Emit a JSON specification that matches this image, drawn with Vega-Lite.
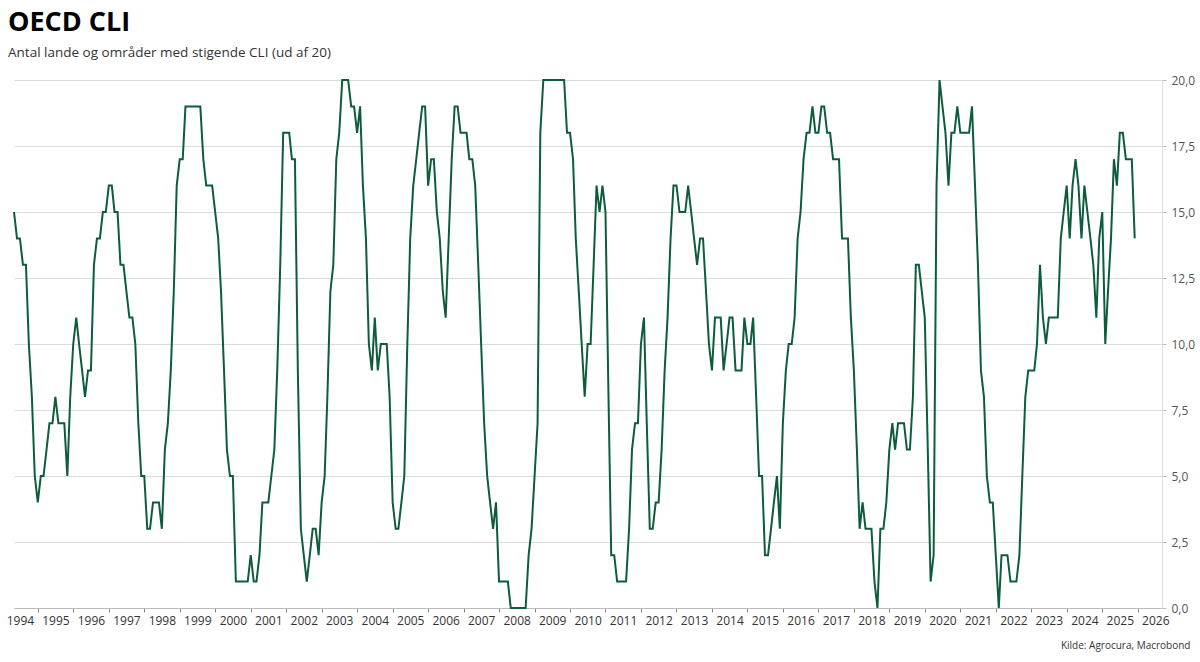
{
  "$schema": "https://vega.github.io/schema/vega-lite/v6.json",
  "width": 1148,
  "height": 528,
  "autosize": {"type": "none"},
  "padding": {"left": 14, "top": 80, "right": 38, "bottom": 54},
  "background": "white",
  "title": {
    "text": "OECD CLI",
    "subtitle": "Antal lande og områder med stigende CLI (ud af 20)",
    "anchor": "start",
    "frame": "group",
    "dx": -6,
    "offset": 14,
    "font": "Open Sans",
    "fontSize": 27,
    "fontWeight": "bold",
    "color": "#000000",
    "subtitleFont": "Open Sans",
    "subtitleFontSize": 13.5,
    "subtitleColor": "#333333",
    "subtitlePadding": 9
  },
  "config": {"view": {"stroke": null}},
  "data": {
    "values": [
      {"d": "1994-05-01", "v": 15}, {"d": "1994-06-01", "v": 14}, {"d": "1994-07-01", "v": 14}, {"d": "1994-08-01", "v": 13}, {"d": "1994-09-01", "v": 13}, {"d": "1994-10-01", "v": 10}, {"d": "1994-11-01", "v": 8}, {"d": "1994-12-01", "v": 5},
      {"d": "1995-01-01", "v": 4}, {"d": "1995-02-01", "v": 5}, {"d": "1995-03-01", "v": 5}, {"d": "1995-04-01", "v": 6}, {"d": "1995-05-01", "v": 7}, {"d": "1995-06-01", "v": 7}, {"d": "1995-07-01", "v": 8}, {"d": "1995-08-01", "v": 7}, {"d": "1995-09-01", "v": 7}, {"d": "1995-10-01", "v": 7}, {"d": "1995-11-01", "v": 5}, {"d": "1995-12-01", "v": 8},
      {"d": "1996-01-01", "v": 10}, {"d": "1996-02-01", "v": 11}, {"d": "1996-03-01", "v": 10}, {"d": "1996-04-01", "v": 9}, {"d": "1996-05-01", "v": 8}, {"d": "1996-06-01", "v": 9}, {"d": "1996-07-01", "v": 9}, {"d": "1996-08-01", "v": 13}, {"d": "1996-09-01", "v": 14}, {"d": "1996-10-01", "v": 14}, {"d": "1996-11-01", "v": 15}, {"d": "1996-12-01", "v": 15},
      {"d": "1997-01-01", "v": 16}, {"d": "1997-02-01", "v": 16}, {"d": "1997-03-01", "v": 15}, {"d": "1997-04-01", "v": 15}, {"d": "1997-05-01", "v": 13}, {"d": "1997-06-01", "v": 13}, {"d": "1997-07-01", "v": 12}, {"d": "1997-08-01", "v": 11}, {"d": "1997-09-01", "v": 11}, {"d": "1997-10-01", "v": 10}, {"d": "1997-11-01", "v": 7}, {"d": "1997-12-01", "v": 5},
      {"d": "1998-01-01", "v": 5}, {"d": "1998-02-01", "v": 3}, {"d": "1998-03-01", "v": 3}, {"d": "1998-04-01", "v": 4}, {"d": "1998-05-01", "v": 4}, {"d": "1998-06-01", "v": 4}, {"d": "1998-07-01", "v": 3}, {"d": "1998-08-01", "v": 6}, {"d": "1998-09-01", "v": 7}, {"d": "1998-10-01", "v": 9}, {"d": "1998-11-01", "v": 12}, {"d": "1998-12-01", "v": 16},
      {"d": "1999-01-01", "v": 17}, {"d": "1999-02-01", "v": 17}, {"d": "1999-03-01", "v": 19}, {"d": "1999-04-01", "v": 19}, {"d": "1999-05-01", "v": 19}, {"d": "1999-06-01", "v": 19}, {"d": "1999-07-01", "v": 19}, {"d": "1999-08-01", "v": 19}, {"d": "1999-09-01", "v": 17}, {"d": "1999-10-01", "v": 16}, {"d": "1999-11-01", "v": 16}, {"d": "1999-12-01", "v": 16},
      {"d": "2000-01-01", "v": 15}, {"d": "2000-02-01", "v": 14}, {"d": "2000-03-01", "v": 12}, {"d": "2000-04-01", "v": 9}, {"d": "2000-05-01", "v": 6}, {"d": "2000-06-01", "v": 5}, {"d": "2000-07-01", "v": 5}, {"d": "2000-08-01", "v": 1}, {"d": "2000-09-01", "v": 1}, {"d": "2000-10-01", "v": 1}, {"d": "2000-11-01", "v": 1}, {"d": "2000-12-01", "v": 1},
      {"d": "2001-01-01", "v": 2}, {"d": "2001-02-01", "v": 1}, {"d": "2001-03-01", "v": 1}, {"d": "2001-04-01", "v": 2}, {"d": "2001-05-01", "v": 4}, {"d": "2001-06-01", "v": 4}, {"d": "2001-07-01", "v": 4}, {"d": "2001-08-01", "v": 5}, {"d": "2001-09-01", "v": 6}, {"d": "2001-10-01", "v": 9}, {"d": "2001-11-01", "v": 13}, {"d": "2001-12-01", "v": 18},
      {"d": "2002-01-01", "v": 18}, {"d": "2002-02-01", "v": 18}, {"d": "2002-03-01", "v": 17}, {"d": "2002-04-01", "v": 17}, {"d": "2002-05-01", "v": 9}, {"d": "2002-06-01", "v": 3}, {"d": "2002-07-01", "v": 2}, {"d": "2002-08-01", "v": 1}, {"d": "2002-09-01", "v": 2}, {"d": "2002-10-01", "v": 3}, {"d": "2002-11-01", "v": 3}, {"d": "2002-12-01", "v": 2},
      {"d": "2003-01-01", "v": 4}, {"d": "2003-02-01", "v": 5}, {"d": "2003-03-01", "v": 8}, {"d": "2003-04-01", "v": 12}, {"d": "2003-05-01", "v": 13}, {"d": "2003-06-01", "v": 17}, {"d": "2003-07-01", "v": 18}, {"d": "2003-08-01", "v": 20}, {"d": "2003-09-01", "v": 20}, {"d": "2003-10-01", "v": 20}, {"d": "2003-11-01", "v": 19}, {"d": "2003-12-01", "v": 19},
      {"d": "2004-01-01", "v": 18}, {"d": "2004-02-01", "v": 19}, {"d": "2004-03-01", "v": 16}, {"d": "2004-04-01", "v": 14}, {"d": "2004-05-01", "v": 10}, {"d": "2004-06-01", "v": 9}, {"d": "2004-07-01", "v": 11}, {"d": "2004-08-01", "v": 9}, {"d": "2004-09-01", "v": 10}, {"d": "2004-10-01", "v": 10}, {"d": "2004-11-01", "v": 10}, {"d": "2004-12-01", "v": 8},
      {"d": "2005-01-01", "v": 4}, {"d": "2005-02-01", "v": 3}, {"d": "2005-03-01", "v": 3}, {"d": "2005-04-01", "v": 4}, {"d": "2005-05-01", "v": 5}, {"d": "2005-06-01", "v": 10}, {"d": "2005-07-01", "v": 14}, {"d": "2005-08-01", "v": 16}, {"d": "2005-09-01", "v": 17}, {"d": "2005-10-01", "v": 18}, {"d": "2005-11-01", "v": 19}, {"d": "2005-12-01", "v": 19},
      {"d": "2006-01-01", "v": 16}, {"d": "2006-02-01", "v": 17}, {"d": "2006-03-01", "v": 17}, {"d": "2006-04-01", "v": 15}, {"d": "2006-05-01", "v": 14}, {"d": "2006-06-01", "v": 12}, {"d": "2006-07-01", "v": 11}, {"d": "2006-08-01", "v": 14}, {"d": "2006-09-01", "v": 17}, {"d": "2006-10-01", "v": 19}, {"d": "2006-11-01", "v": 19}, {"d": "2006-12-01", "v": 18},
      {"d": "2007-01-01", "v": 18}, {"d": "2007-02-01", "v": 18}, {"d": "2007-03-01", "v": 17}, {"d": "2007-04-01", "v": 17}, {"d": "2007-05-01", "v": 16}, {"d": "2007-06-01", "v": 13}, {"d": "2007-07-01", "v": 10}, {"d": "2007-08-01", "v": 7}, {"d": "2007-09-01", "v": 5}, {"d": "2007-10-01", "v": 4}, {"d": "2007-11-01", "v": 3}, {"d": "2007-12-01", "v": 4},
      {"d": "2008-01-01", "v": 1}, {"d": "2008-02-01", "v": 1}, {"d": "2008-03-01", "v": 1}, {"d": "2008-04-01", "v": 1}, {"d": "2008-05-01", "v": 0}, {"d": "2008-06-01", "v": 0}, {"d": "2008-07-01", "v": 0}, {"d": "2008-08-01", "v": 0}, {"d": "2008-09-01", "v": 0}, {"d": "2008-10-01", "v": 0}, {"d": "2008-11-01", "v": 2}, {"d": "2008-12-01", "v": 3},
      {"d": "2009-01-01", "v": 5}, {"d": "2009-02-01", "v": 7}, {"d": "2009-03-01", "v": 18}, {"d": "2009-04-01", "v": 20}, {"d": "2009-05-01", "v": 20}, {"d": "2009-06-01", "v": 20}, {"d": "2009-07-01", "v": 20}, {"d": "2009-08-01", "v": 20}, {"d": "2009-09-01", "v": 20}, {"d": "2009-10-01", "v": 20}, {"d": "2009-11-01", "v": 20}, {"d": "2009-12-01", "v": 18},
      {"d": "2010-01-01", "v": 18}, {"d": "2010-02-01", "v": 17}, {"d": "2010-03-01", "v": 14}, {"d": "2010-04-01", "v": 12}, {"d": "2010-05-01", "v": 10}, {"d": "2010-06-01", "v": 8}, {"d": "2010-07-01", "v": 10}, {"d": "2010-08-01", "v": 10}, {"d": "2010-09-01", "v": 13}, {"d": "2010-10-01", "v": 16}, {"d": "2010-11-01", "v": 15}, {"d": "2010-12-01", "v": 16},
      {"d": "2011-01-01", "v": 15}, {"d": "2011-02-01", "v": 8}, {"d": "2011-03-01", "v": 2}, {"d": "2011-04-01", "v": 2}, {"d": "2011-05-01", "v": 1}, {"d": "2011-06-01", "v": 1}, {"d": "2011-07-01", "v": 1}, {"d": "2011-08-01", "v": 1}, {"d": "2011-09-01", "v": 3}, {"d": "2011-10-01", "v": 6}, {"d": "2011-11-01", "v": 7}, {"d": "2011-12-01", "v": 7},
      {"d": "2012-01-01", "v": 10}, {"d": "2012-02-01", "v": 11}, {"d": "2012-03-01", "v": 7}, {"d": "2012-04-01", "v": 3}, {"d": "2012-05-01", "v": 3}, {"d": "2012-06-01", "v": 4}, {"d": "2012-07-01", "v": 4}, {"d": "2012-08-01", "v": 6}, {"d": "2012-09-01", "v": 9}, {"d": "2012-10-01", "v": 11}, {"d": "2012-11-01", "v": 14}, {"d": "2012-12-01", "v": 16},
      {"d": "2013-01-01", "v": 16}, {"d": "2013-02-01", "v": 15}, {"d": "2013-03-01", "v": 15}, {"d": "2013-04-01", "v": 15}, {"d": "2013-05-01", "v": 16}, {"d": "2013-06-01", "v": 15}, {"d": "2013-07-01", "v": 14}, {"d": "2013-08-01", "v": 13}, {"d": "2013-09-01", "v": 14}, {"d": "2013-10-01", "v": 14}, {"d": "2013-11-01", "v": 12}, {"d": "2013-12-01", "v": 10},
      {"d": "2014-01-01", "v": 9}, {"d": "2014-02-01", "v": 11}, {"d": "2014-03-01", "v": 11}, {"d": "2014-04-01", "v": 11}, {"d": "2014-05-01", "v": 9}, {"d": "2014-06-01", "v": 10}, {"d": "2014-07-01", "v": 11}, {"d": "2014-08-01", "v": 11}, {"d": "2014-09-01", "v": 9}, {"d": "2014-10-01", "v": 9}, {"d": "2014-11-01", "v": 9}, {"d": "2014-12-01", "v": 11},
      {"d": "2015-01-01", "v": 10}, {"d": "2015-02-01", "v": 10}, {"d": "2015-03-01", "v": 11}, {"d": "2015-04-01", "v": 8}, {"d": "2015-05-01", "v": 5}, {"d": "2015-06-01", "v": 5}, {"d": "2015-07-01", "v": 2}, {"d": "2015-08-01", "v": 2}, {"d": "2015-09-01", "v": 3}, {"d": "2015-10-01", "v": 4}, {"d": "2015-11-01", "v": 5}, {"d": "2015-12-01", "v": 3},
      {"d": "2016-01-01", "v": 7}, {"d": "2016-02-01", "v": 9}, {"d": "2016-03-01", "v": 10}, {"d": "2016-04-01", "v": 10}, {"d": "2016-05-01", "v": 11}, {"d": "2016-06-01", "v": 14}, {"d": "2016-07-01", "v": 15}, {"d": "2016-08-01", "v": 17}, {"d": "2016-09-01", "v": 18}, {"d": "2016-10-01", "v": 18}, {"d": "2016-11-01", "v": 19}, {"d": "2016-12-01", "v": 18},
      {"d": "2017-01-01", "v": 18}, {"d": "2017-02-01", "v": 19}, {"d": "2017-03-01", "v": 19}, {"d": "2017-04-01", "v": 18}, {"d": "2017-05-01", "v": 18}, {"d": "2017-06-01", "v": 17}, {"d": "2017-07-01", "v": 17}, {"d": "2017-08-01", "v": 17}, {"d": "2017-09-01", "v": 14}, {"d": "2017-10-01", "v": 14}, {"d": "2017-11-01", "v": 14}, {"d": "2017-12-01", "v": 11},
      {"d": "2018-01-01", "v": 9}, {"d": "2018-02-01", "v": 6}, {"d": "2018-03-01", "v": 3}, {"d": "2018-04-01", "v": 4}, {"d": "2018-05-01", "v": 3}, {"d": "2018-06-01", "v": 3}, {"d": "2018-07-01", "v": 3}, {"d": "2018-08-01", "v": 1}, {"d": "2018-09-01", "v": 0}, {"d": "2018-10-01", "v": 3}, {"d": "2018-11-01", "v": 3}, {"d": "2018-12-01", "v": 4},
      {"d": "2019-01-01", "v": 6}, {"d": "2019-02-01", "v": 7}, {"d": "2019-03-01", "v": 6}, {"d": "2019-04-01", "v": 7}, {"d": "2019-05-01", "v": 7}, {"d": "2019-06-01", "v": 7}, {"d": "2019-07-01", "v": 6}, {"d": "2019-08-01", "v": 6}, {"d": "2019-09-01", "v": 8}, {"d": "2019-10-01", "v": 13}, {"d": "2019-11-01", "v": 13}, {"d": "2019-12-01", "v": 12},
      {"d": "2020-01-01", "v": 11}, {"d": "2020-02-01", "v": 6}, {"d": "2020-03-01", "v": 1}, {"d": "2020-04-01", "v": 2}, {"d": "2020-05-01", "v": 16}, {"d": "2020-06-01", "v": 20}, {"d": "2020-07-01", "v": 19}, {"d": "2020-08-01", "v": 18}, {"d": "2020-09-01", "v": 16}, {"d": "2020-10-01", "v": 18}, {"d": "2020-11-01", "v": 18}, {"d": "2020-12-01", "v": 19},
      {"d": "2021-01-01", "v": 18}, {"d": "2021-02-01", "v": 18}, {"d": "2021-03-01", "v": 18}, {"d": "2021-04-01", "v": 18}, {"d": "2021-05-01", "v": 19}, {"d": "2021-06-01", "v": 16}, {"d": "2021-07-01", "v": 13}, {"d": "2021-08-01", "v": 9}, {"d": "2021-09-01", "v": 8}, {"d": "2021-10-01", "v": 5}, {"d": "2021-11-01", "v": 4}, {"d": "2021-12-01", "v": 4},
      {"d": "2022-01-01", "v": 2}, {"d": "2022-02-01", "v": 0}, {"d": "2022-03-01", "v": 2}, {"d": "2022-04-01", "v": 2}, {"d": "2022-05-01", "v": 2}, {"d": "2022-06-01", "v": 1}, {"d": "2022-07-01", "v": 1}, {"d": "2022-08-01", "v": 1}, {"d": "2022-09-01", "v": 2}, {"d": "2022-10-01", "v": 5}, {"d": "2022-11-01", "v": 8}, {"d": "2022-12-01", "v": 9},
      {"d": "2023-01-01", "v": 9}, {"d": "2023-02-01", "v": 9}, {"d": "2023-03-01", "v": 10}, {"d": "2023-04-01", "v": 13}, {"d": "2023-05-01", "v": 11}, {"d": "2023-06-01", "v": 10}, {"d": "2023-07-01", "v": 11}, {"d": "2023-08-01", "v": 11}, {"d": "2023-09-01", "v": 11}, {"d": "2023-10-01", "v": 11}, {"d": "2023-11-01", "v": 14}, {"d": "2023-12-01", "v": 15},
      {"d": "2024-01-01", "v": 16}, {"d": "2024-02-01", "v": 14}, {"d": "2024-03-01", "v": 16}, {"d": "2024-04-01", "v": 17}, {"d": "2024-05-01", "v": 16}, {"d": "2024-06-01", "v": 14}, {"d": "2024-07-01", "v": 16}, {"d": "2024-08-01", "v": 15}, {"d": "2024-09-01", "v": 14}, {"d": "2024-10-01", "v": 13}, {"d": "2024-11-01", "v": 11}, {"d": "2024-12-01", "v": 14},
      {"d": "2025-01-01", "v": 15}, {"d": "2025-02-01", "v": 10}, {"d": "2025-03-01", "v": 12}, {"d": "2025-04-01", "v": 14}, {"d": "2025-05-01", "v": 17}, {"d": "2025-06-01", "v": 16}, {"d": "2025-07-01", "v": 18}, {"d": "2025-08-01", "v": 18}, {"d": "2025-09-01", "v": 17}, {"d": "2025-10-01", "v": 17}, {"d": "2025-11-01", "v": 17}, {"d": "2025-12-01", "v": 14}
    ]
  },
  "mark": {"type": "line", "color": "#0d5c3c", "strokeWidth": 2, "interpolate": "linear"},
  "encoding": {
    "x": {
      "field": "d",
      "type": "temporal",
      "scale": {"domain": ["1994-05-01", "2026-09-08"]},
      "axis": {
        "title": "Kilde: Agrocura, Macrobond",
        "titleFont": "Open Sans",
        "titleFontSize": 10,
        "titleFontWeight": "normal",
        "titleColor": "#333333",
        "titleX": 1176,
        "titleY": 37,
        "titleAlign": "right",
        "titleBaseline": "middle",
        "values": [{"year": 1994, "month": 7}, {"year": 1995, "month": 7}, {"year": 1996, "month": 7}, {"year": 1997, "month": 7}, {"year": 1998, "month": 7}, {"year": 1999, "month": 7}, {"year": 2000, "month": 7}, {"year": 2001, "month": 7}, {"year": 2002, "month": 7}, {"year": 2003, "month": 7}, {"year": 2004, "month": 7}, {"year": 2005, "month": 7}, {"year": 2006, "month": 7}, {"year": 2007, "month": 7}, {"year": 2008, "month": 7}, {"year": 2009, "month": 7}, {"year": 2010, "month": 7}, {"year": 2011, "month": 7}, {"year": 2012, "month": 7}, {"year": 2013, "month": 7}, {"year": 2014, "month": 7}, {"year": 2015, "month": 7}, {"year": 2016, "month": 7}, {"year": 2017, "month": 7}, {"year": 2018, "month": 7}, {"year": 2019, "month": 7}, {"year": 2020, "month": 7}, {"year": 2021, "month": 7}, {"year": 2022, "month": 7}, {"year": 2023, "month": 7}, {"year": 2024, "month": 7}, {"year": 2025, "month": 7}, {"year": 2026, "month": 7}],
        "format": "%Y",
        "tickOffset": -17.6,
        "labelOffset": 17.6,
        "labelFont": "Open Sans",
        "labelFontSize": 12,
        "labelColor": "#333333",
        "labelPadding": 3,
        "labelOverlap": false,
        "labelFlush": false,
        "labelBound": false,
        "tickSize": 4,
        "tickColor": "#888888",
        "tickOpacity": {"condition": {"test": "year(datum.value) < 1995", "value": 0}, "value": 1},
        "domainColor": "#bbbbbb",
        "grid": false
      }
    },
    "y": {
      "field": "v",
      "type": "quantitative",
      "scale": {"domain": [0, 20], "nice": false},
      "axis": {
        "orient": "right",
        "title": null,
        "values": [0, 2.5, 5, 7.5, 10, 12.5, 15, 17.5, 20],
        "labelExpr": "replace(format(datum.value, '.1f'), '.', ',')",
        "labelFont": "Open Sans",
        "labelFontSize": 12,
        "labelColor": "#555555",
        "labelPadding": 5,
        "tickSize": 4,
        "tickColor": "#bbbbbb",
        "domainColor": "#dddddd",
        "grid": true,
        "gridColor": "#dcdcdc",
        "gridWidth": 1
      }
    }
  }
}
